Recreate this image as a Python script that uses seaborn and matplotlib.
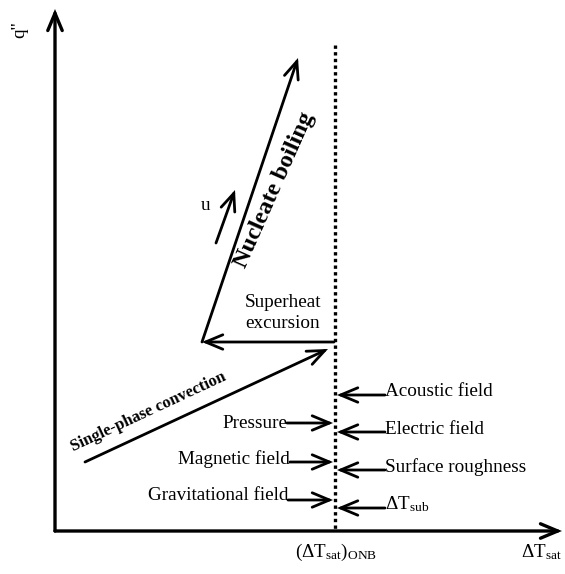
import matplotlib
matplotlib.use("Agg")
import matplotlib.pyplot as plt
import seaborn as sns

sns.set_theme(style="white")
plt.rcParams['font.family'] = ['Liberation Serif', 'DejaVu Serif']
plt.rcParams['text.color'] = 'black'
plt.rcParams['mathtext.fontset'] = 'custom'
plt.rcParams['mathtext.rm'] = 'Liberation Serif'
plt.rcParams['mathtext.it'] = 'Liberation Serif:italic'

# ---- schematic data (pixel-like schematic coordinates, y downward) ----
onb_x = [335, 335]
onb_y = [45, 531]

# main process arrows: start -> end
proc_start_x = [85, 334, 202, 216]
proc_start_y = [462, 342, 342, 243]
proc_end_x = [328, 202, 298, 235]
proc_end_y = [349, 342, 58, 190]

# left influence factors (arrow from text to ONB line)
left_labels = ["Pressure", "Magnetic field", "Gravitational field"]
left_text_x = [287, 290, 288]
left_text_y = [428, 464, 500]
left_arrow_y = [423, 462, 500]

# right influence factors
right_labels = ["Acoustic field", "Electric field", "Surface roughness", r"$\mathrm{\Delta T_{sub}}$"]
right_text_y = [396, 434, 472, 509]
right_arrow_y = [395, 432, 470, 508]

fig = plt.figure(figsize=(5.65, 5.74), dpi=100)
ax = fig.add_axes([0, 0, 1, 1])
ax.set_xlim(0, 565)
ax.set_ylim(574, 0)
ax.axis("off")

FS = 13.8

# dotted ONB line via seaborn
sns.lineplot(x=onb_x, y=onb_y, estimator=None, sort=False, ax=ax,
             color="black", linewidth=2.4, linestyle=(0, (1, 1.0)))

def arrow(x0, y0, x1, y1, lw=2.0):
    ax.annotate("", xy=(x1, y1), xytext=(x0, y0),
                arrowprops=dict(arrowstyle="->,head_length=0.62,head_width=0.26",
                                lw=lw, color="black", shrinkA=0, shrinkB=0,
                                mutation_scale=20, joinstyle="miter"))

# axes
arrow(55, 531, 55, 9, lw=2.4)
arrow(55, 531, 562, 531, lw=2.4)

for x0, y0, x1, y1 in zip(proc_start_x, proc_start_y, proc_end_x, proc_end_y):
    arrow(x0, y0, x1, y1)

for lab, tx, ty, ay in zip(left_labels, left_text_x, left_text_y, left_arrow_y):
    ax.text(tx, ty, lab, ha="right", va="baseline", fontsize=FS)
    arrow(tx, ay, 333, ay)

for lab, ty, ay in zip(right_labels, right_text_y, right_arrow_y):
    ax.text(385, ty, lab, ha="left", va="baseline", fontsize=FS)
    arrow(385, ay, 337, ay)

ax.text(283, 313, "Superheat\nexcursion", ha="center", va="center",
        fontsize=FS, linespacing=1.25)
ax.text(275, 190, "Nucleate boiling", ha="center", va="center",
        rotation=66, fontsize=17.5, fontweight="bold", rotation_mode="anchor")
ax.text(148, 412, "Single-phase convection", ha="center", va="center",
        rotation=25, fontsize=12, fontweight="bold", rotation_mode="anchor")
ax.text(206, 206, "u", ha="center", va="center", fontsize=FS)

ax.text(20, 30, "q''", ha="center", va="center", rotation=90, fontsize=FS)
ax.text(336, 552, r"$\mathrm{(\Delta T_{sat})_{ONB}}$", ha="center", va="center", fontsize=FS)
ax.text(541, 552, r"$\mathrm{\Delta T_{sat}}$", ha="center", va="center", fontsize=FS)

fig.savefig("out.png", dpi=100)
